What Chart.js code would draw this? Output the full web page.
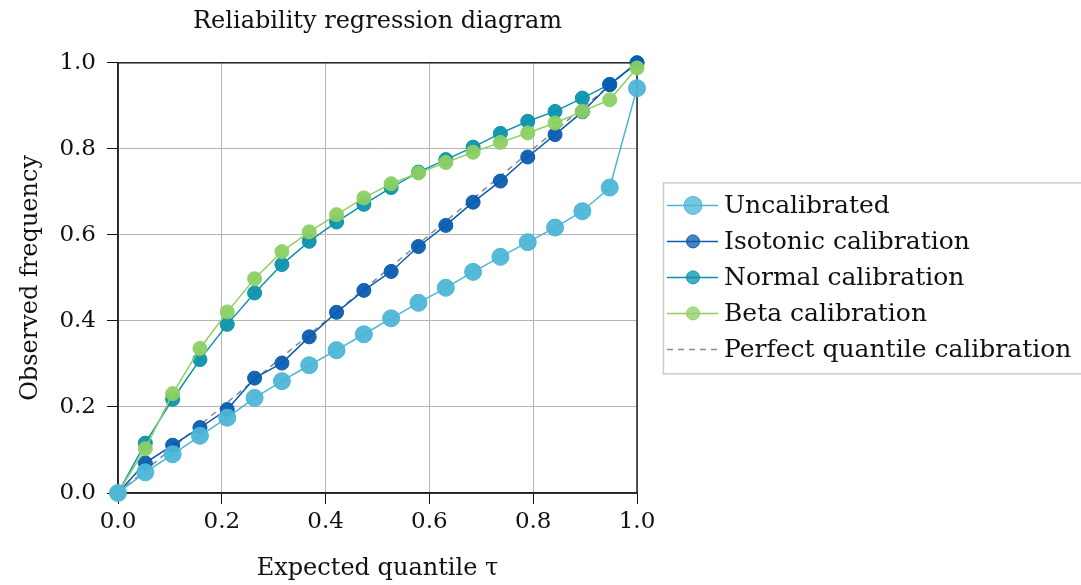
<!DOCTYPE html>
<html>
<head>
<meta charset="utf-8">
<script src="https://cdn.jsdelivr.net/npm/chart.js@4/dist/chart.umd.min.js"></script>
<style>
  html, body { margin: 0; padding: 0; background: #fff; }
  #wrap { width: 1081px; height: 585px; }
</style>
</head>
<body>
<div id="wrap"><canvas id="chart"></canvas></div>
<script>
// expected quantile levels (tau)
const tau = [0, 0.0526, 0.1053, 0.1579, 0.2105, 0.2632, 0.3158, 0.3684, 0.4211, 0.4737,
             0.5263, 0.5789, 0.6316, 0.6842, 0.7368, 0.7895, 0.8421, 0.8947, 0.9474, 1.0];

// observed frequencies
const uncalibrated = [0, 0.048, 0.090, 0.133, 0.175, 0.221, 0.260, 0.297, 0.332, 0.369,
                      0.406, 0.442, 0.477, 0.514, 0.549, 0.583, 0.617, 0.655, 0.710, 0.941];
const isotonic = [0, 0.070, 0.111, 0.152, 0.194, 0.267, 0.302, 0.363, 0.420, 0.471,
                  0.515, 0.573, 0.622, 0.676, 0.725, 0.781, 0.833, 0.886, 0.949, 1.0];
const normalCal = [0, 0.116, 0.218, 0.310, 0.392, 0.465, 0.531, 0.585, 0.630, 0.671,
                   0.710, 0.746, 0.775, 0.804, 0.836, 0.864, 0.887, 0.918, 0.950, 1.0];
const betaCal = [0, 0.103, 0.231, 0.336, 0.421, 0.498, 0.561, 0.607, 0.647, 0.686,
                 0.719, 0.744, 0.768, 0.792, 0.815, 0.837, 0.860, 0.887, 0.914, 0.988];
const perfectX = [0, 1];
const perfectY = [0, 1];

const FONT = "'DejaVu Serif', 'Liberation Serif', serif";

const pts = (xs, ys) => xs.map((x, i) => ({ x, y: ys[i] }));

function series(label, ys, color, fill, r, order) {
    return {
        label,
        data: pts(tau, ys),
        borderColor: color,
        backgroundColor: fill,
        borderWidth: 1.5,
        pointRadius: r,
        pointBorderWidth: 1,
        pointBorderColor: color,
        pointBackgroundColor: fill,
        pointHoverRadius: r,
        tension: 0,
        clip: false,
        order
    };
}

const datasets = [
    series("Uncalibrated", uncalibrated, "#4db6d6", "rgba(77,182,214,0.95)", 8.5, 1),
    series("Isotonic calibration", isotonic, "#0a5cb0", "rgba(10,92,176,0.95)", 7, 3),
    series("Normal calibration", normalCal, "#0b93ad", "rgba(11,147,173,0.95)", 7, 4),
    series("Beta calibration", betaCal, "#8cd064", "rgba(140,208,100,0.95)", 7, 2),
    {
        label: "Perfect quantile calibration",
        data: pts(perfectX, perfectY),
        borderColor: "#8a8a8a",
        borderWidth: 1.5,
        borderDash: [6, 5],
        pointRadius: 0,
        order: 5
    }
];

// black frame round the plot area
const framePlugin = {
    id: "frame",
    beforeDatasetsDraw(chart) {
        const { ctx, chartArea: a } = chart;
        ctx.save();
        ctx.strokeStyle = "#222";
        ctx.lineWidth = 1.5;
        ctx.strokeRect(a.left, a.top, a.right - a.left, a.bottom - a.top);
        ctx.restore();
    }
};

// boxed legend to the right of the plot
const legendPlugin = {
    id: "boxLegend",
    afterDraw(chart) {
        const { ctx, chartArea: a } = chart;
        const rowH = 36;
        const items = chart.data.datasets;
        const boxH = rowH * items.length + 11;
        const left = a.right + 26;
        const top = (a.top + a.bottom) / 2 - boxH / 2;
        ctx.save();
        ctx.strokeStyle = "#cccccc";
        ctx.lineWidth = 1.5;
        ctx.strokeRect(left + 0.5, top + 0.5, 440, boxH);
        ctx.font = "25px " + FONT;
        ctx.textBaseline = "middle";
        items.forEach((ds, i) => {
            const y = top + 23 + i * rowH;
            ctx.strokeStyle = ds.borderColor;
            ctx.lineWidth = ds.borderWidth;
            ctx.setLineDash(ds.borderDash || []);
            ctx.beginPath();
            ctx.moveTo(left + 4, y);
            ctx.lineTo(left + 55, y);
            ctx.stroke();
            ctx.setLineDash([]);
            if (ds.pointRadius) {
                const r = ds.pointRadius === 8.5 ? 9 : 6.5;
                ctx.beginPath();
                ctx.arc(left + 30, y, r, 0, Math.PI * 2);
                ctx.globalAlpha = 0.8;
                ctx.fillStyle = ds.pointBackgroundColor;
                ctx.fill();
                ctx.globalAlpha = 1;
                ctx.lineWidth = 1;
                ctx.stroke();
            }
            ctx.fillStyle = "#111";
            ctx.fillText(ds.label, left + 61, y + 1);
        });
        ctx.restore();
    }
};

const ctx = document.getElementById("chart").getContext("2d");
new Chart(ctx, {
    type: "line",
    data: { datasets },
    options: {
        responsive: true,
        maintainAspectRatio: false,
        animation: false,
        layout: { padding: { left: 0, right: 444, top: 0, bottom: 0 } },
        plugins: {
            legend: { display: false },
            tooltip: { enabled: false },
            title: {
                display: true,
                fullSize: false,
                text: "Reliability regression diagram",
                color: "#111",
                font: { family: FONT, size: 24, weight: "normal" },
                padding: { top: 7, bottom: 27 }
            }
        },
        scales: {
            x: {
                type: "linear",
                min: 0,
                max: 1,
                afterFit(scale) { scale.height = 92; },
                ticks: {
                    stepSize: 0.2,
                    padding: 4,
                    color: "#111",
                    font: { family: FONT, size: 23 },
                    callback: v => v.toFixed(1)
                },
                grid: { color: "#b5b5b5", lineWidth: 1, tickLength: 11, tickColor: "#111" },
                border: { color: "#222", width: 1.5 },
                title: {
                    display: true,
                    text: "Expected quantile τ",
                    color: "#111",
                    font: { family: FONT, size: 24 },
                    padding: { top: 4, bottom: 2 }
                }
            },
            y: {
                type: "linear",
                min: 0,
                max: 1,
                afterFit(scale) { scale.width = 118; },
                ticks: {
                    stepSize: 0.2,
                    padding: 11,
                    color: "#111",
                    font: { family: FONT, size: 23 },
                    callback: v => v.toFixed(1)
                },
                grid: { color: "#b5b5b5", lineWidth: 1, tickLength: 11, tickColor: "#111" },
                border: { color: "#222", width: 1.5 },
                title: {
                    display: true,
                    text: "Observed frequency",
                    color: "#111",
                    font: { family: FONT, size: 24 },
                    padding: { top: 16, bottom: 0 }
                }
            }
        }
    },
    plugins: [framePlugin, legendPlugin]
});
</script>
</body>
</html>
